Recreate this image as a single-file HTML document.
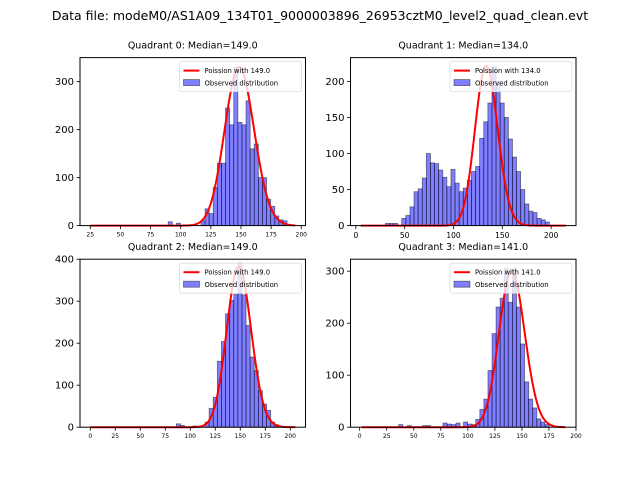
<!DOCTYPE html>
<html><head><meta charset="utf-8"><style>
body{margin:0;background:#fff;}
svg{display:block;font-family:"DejaVu Sans","Liberation Sans",sans-serif;}
</style></head><body>
<svg id="fig" width="640" height="480">
<text x="320" y="20" text-anchor="middle" font-size="12.5">Data file: modeM0/AS1A09_134T01_9000003896_26953cztM0_level2_quad_clean.evt</text>
</svg>
<script>
const q0Bins=[89.6,96.4,116.8,120.2,123.6,127,130.4,133.8,137.2,140.6,144,147.4,150.8,154.2,157.6,161,164.4,167.8,171.2,174.6,178,181.4,184.8];
const q0Counts=[8,5,10,35,25,80,130,130,245,210,330,215,210,260,160,170,100,100,55,40,20,12,10];
const q1Bins=[30.2,34.4,38.6,47,51.2,55.4,59.6,63.8,68,72.2,76.4,80.6,84.8,89,93.2,97.4,101.6,105.8,110,114.2,118.4,122.6,126.8,131,135.2,139.4,143.6,147.8,152,156.2,160.4,164.6,168.8,173,177.2,181.4,185.6,189.8,194];
const q1Counts=[3,3,3,10,14,26,47,51,66,100,87,86,77,67,54,78,59,47,52,63,75,82,121,144,170,220,200,170,150,120,95,75,50,30,20,18,10,8,5];
const q2Bins=[86.1,90.2,102.5,114.8,118.9,123,127.1,131.2,135.3,139.4,143.5,147.6,151.7,155.8,159.9,164,168.1,172.2,176.3,180.4,184.5];
const q2Counts=[8,4,3,12,45,71,157,204,270,302,316,391,315,242,167,135,87,55,40,12,6];
const q3Bins=[36,44,58,62,77,81,85,89,96,100,104,107.3,111.1,114.8,118.6,122.4,126.1,129.9,133.6,137.4,141.2,144.9,148.7,152.5,156.2,160,163.8,167.5,171.3];
const q3Counts=[5,3,3,3,8,6,5,8,10,6,5,15,34,54,109,180,231,248,305,240,305,231,160,87,54,37,16,10,5];
const binWidths=[3.4,4.2,4.1,3.76];
const medians=[149,134,149,141];
const poissonAmp=[10100,6430,11700,8930];
const curveRanges=[[25,195],[5,215],[0,205],[2,190]];
const xTicks=[[25,50,75,100,125,150,175,200],[0,50,100,150,200],[0,25,50,75,100,125,150,175,200],[0,25,50,75,100,125,150,175,200]];
const yTicks=[[0,100,200,300],[0,50,100,150,200],[0,100,200,300,400],[0,100,200,300]];

const NS="http://www.w3.org/2000/svg";
const svg=document.getElementById('fig');
function mk(t,a,p){const e=document.createElementNS(NS,t);for(const k in a)e.setAttribute(k,a[k]);(p||svg).appendChild(e);return e;}
function lgam(n){let s=0;for(let i=2;i<=n;i++)s+=Math.log(i);return s;}
function pois(k,l){return Math.exp(k*Math.log(l)-l-lgam(k));}

const panels=[
 {x0:80,x1:305.5,y0:57.6,y1:225.6,xmin:16.5,xmax:203.5,ymax:350,bins:q0Bins,counts:q0Counts,xfs:6},
 {x0:350.5,x1:576,y0:57.6,y1:225.6,xmin:-5.5,xmax:225.5,ymax:233,bins:q1Bins,counts:q1Counts,xfs:7.5},
 {x0:80,x1:305.5,y0:259.2,y1:427.2,xmin:-10.25,xmax:215.25,ymax:400,bins:q2Bins,counts:q2Counts,xfs:6},
 {x0:350.5,x1:576,y0:259.2,y1:427.2,xmin:-8.5,xmax:200,ymax:323,bins:q3Bins,counts:q3Counts,xfs:6}
];
panels.forEach((p,i)=>{
 const g=mk('g',{});
 
 
 const X=v=>p.x0+(v-p.xmin)/(p.xmax-p.xmin)*(p.x1-p.x0);
 const Y=v=>p.y1-v/p.ymax*(p.y1-p.y0);
 const t=mk('text',{x:(p.x0+p.x1)/2,y:p.y0-9,'text-anchor':'middle','font-size':'9.5'},g);
 t.textContent='Quadrant '+i+': Median='+medians[i].toFixed(1);
 
 
 p.bins.forEach((bv,j)=>{
  const r=mk('rect',{x:X(bv),y:Y(p.counts[j]),width:X(bv+binWidths[i])-X(bv),height:Y(0)-Y(p.counts[j]),fill:'rgba(0,0,255,0.5)',stroke:'rgba(0,0,0,0.5)','stroke-width':0.8},g);
  
  
 });
 let d='';const [a,b]=curveRanges[i];
 for(let k=a;k<=b;k++){d+=(k==a?'M':'L')+X(k).toFixed(2)+','+Y(poissonAmp[i]*pois(k,medians[i])).toFixed(2);}
 const c=mk('path',{d:d,fill:'none',stroke:'#ff0000','stroke-width':2},g);
 
 
 const fr=mk('rect',{x:p.x0,y:p.y0,width:p.x1-p.x0,height:p.y1-p.y0,fill:'none',stroke:'#000','stroke-width':1},g);
 
 
 xTicks[i].forEach(v=>{
  mk('line',{x1:X(v),x2:X(v),y1:p.y1,y2:p.y1+3.5,stroke:'#000','stroke-width':0.8},g);
  const tl=mk('text',{x:X(v),y:p.y1+5+p.xfs,'text-anchor':'middle','font-size':p.xfs},g);
  tl.textContent=v;
  
  
 });
 yTicks[i].forEach(v=>{
  mk('line',{x1:p.x0-3.5,x2:p.x0,y1:Y(v),y2:Y(v),stroke:'#000','stroke-width':0.8},g);
  const tl=mk('text',{x:p.x0-6,y:Y(v)+3.5,'text-anchor':'end','font-size':10},g);
  tl.textContent=v;
  
  
 });
 const lg=mk('g',{},g);
 
 
 const lx=p.x1-126,ly=p.y0+4;
 mk('rect',{x:lx,y:ly,width:122,height:30,rx:2,fill:'rgba(255,255,255,0.8)',stroke:'#ddd','stroke-width':0.8},lg);
 mk('line',{x1:lx+4,x2:lx+20,y1:ly+9,y2:ly+9,stroke:'#ff0000','stroke-width':2},lg);
 mk('rect',{x:lx+4,y:ly+18,width:16,height:6,fill:'rgba(0,0,255,0.5)',stroke:'rgba(0,0,0,0.5)','stroke-width':0.8},lg);
 const l1=mk('text',{x:lx+25,y:ly+11.5,'font-size':6.8},lg);l1.textContent='Poission with '+medians[i].toFixed(1);
 
 
 const l2=mk('text',{x:lx+25,y:ly+24,'font-size':6.8},lg);l2.textContent='Observed distribution';
 
 
});
</script>
</body></html>
